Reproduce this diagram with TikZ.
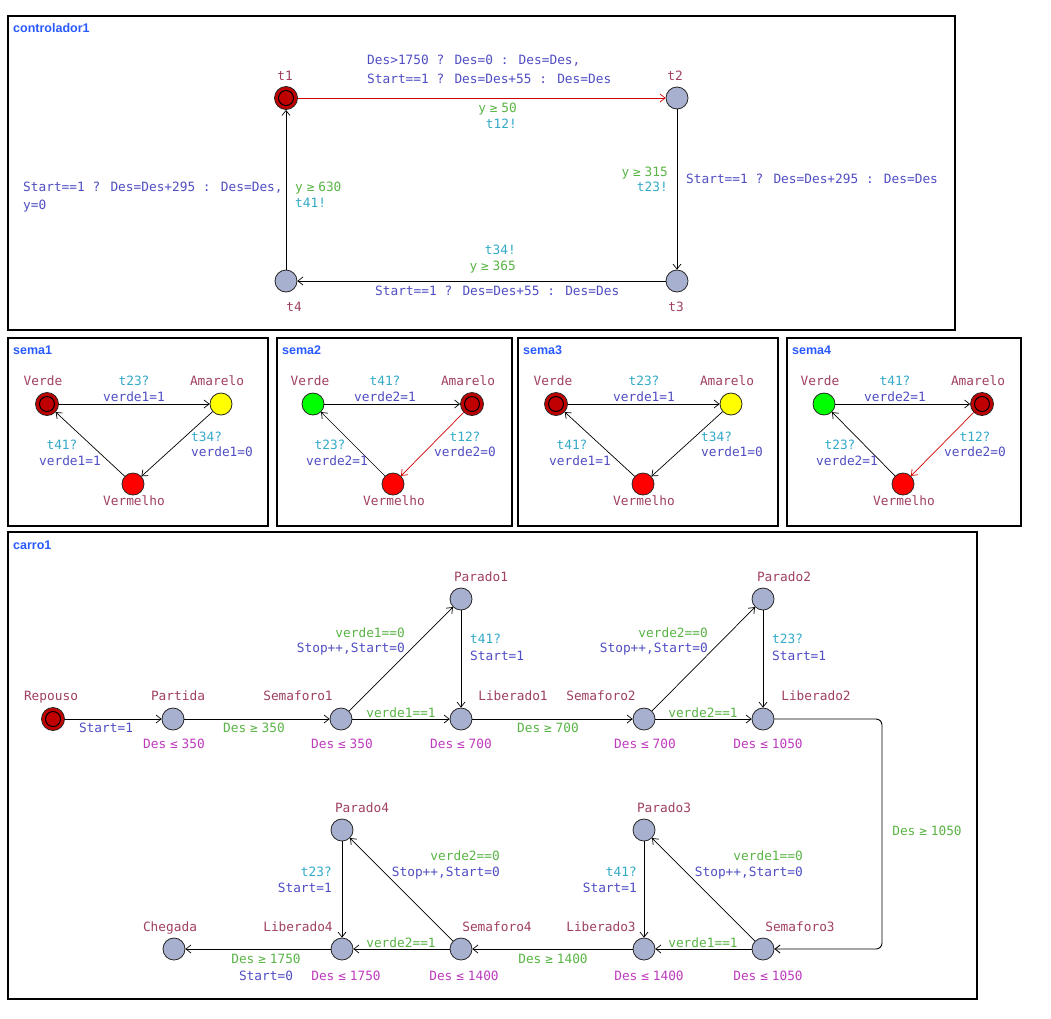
\documentclass[tikz,border=0pt]{standalone}
\usepackage{fontspec}
\setmainfont{DejaVu Sans Mono}
\newfontfamily\titlefont{Liberation Sans}
\usetikzlibrary{arrows.meta}

\definecolor{locname}{RGB}{160,64,96}
\definecolor{guardc}{RGB}{90,180,70}
\definecolor{syncc}{RGB}{50,170,200}
\definecolor{assignc}{RGB}{80,78,195}
\definecolor{invc}{RGB}{190,60,190}
\definecolor{titleblue}{RGB}{40,90,255}
\definecolor{locfill}{RGB}{168,176,208}
\definecolor{initred}{RGB}{192,0,0}
\definecolor{edgered}{RGB}{210,0,0}
\definecolor{litgreen}{RGB}{0,255,0}
\definecolor{lityellow}{RGB}{255,255,0}
\definecolor{litred}{RGB}{255,0,0}

% two-cell comparison signs, as in the editor's ligature font
\newcommand\gecell{\makebox[1.204em]{≥}}
\newcommand\lecell{\makebox[1.204em]{≤}}

\begin{document}
\begin{tikzpicture}[x=1pt,y=-1pt,
  loc/.style={circle, draw=black!85, line width=0.8pt, fill=locfill,
    minimum size=22pt, inner sep=0pt},
  initloc/.style={loc, fill=initred, minimum size=23pt,
    path picture={\draw[black, line width=1pt]
      (path picture bounding box.center) circle (7.5pt);}},
  greenloc/.style={loc, fill=litgreen},
  yellowloc/.style={loc, fill=lityellow},
  redloc/.style={loc, fill=litred},
  txt/.style={inner sep=0pt, text height=9pt, text depth=0pt,
    font=\fontsize{12.8}{15}\selectfont},
  lname/.style={txt, text=locname},
  guard/.style={txt, text=guardc},
  sync/.style={txt, text=syncc},
  assign/.style={txt, text=assignc},
  inv/.style={txt, text=invc},
  edge/.style={draw=black, line width=0.7pt,
    -{Straight Barb[length=5pt,width=8pt]}},
  redge/.style={edge, draw=edgered},
  panel/.style={draw=black, line width=1.2pt},
  ptitle/.style={anchor=west, inner sep=0pt, text=titleblue,
    text height=9pt, text depth=0pt,
    font=\titlefont\bfseries\fontsize{12.5}{14}\selectfont},
]
\fill[white] (0,0) rectangle (1051,1018);
\useasboundingbox (0,0) rectangle (1051,1018);

% ---------------- controlador1 ----------------
\draw[panel] (8,16) rectangle (955,330);
\node[ptitle] (ttlctl) at (13,28) {controlador1};

\node[initloc] (t1) at (286,98) {};
\node[loc] (t2) at (677,98) {};
\node[loc] (t3) at (677,281) {};
\node[loc] (t4) at (286,281) {};
\node[lname] (t1n) at (285,76) {t1};
\node[lname] (t2n) at (675,76) {t2};
\node[lname] (t3n) at (676,307) {t3};
\node[lname] (t4n) at (294,307) {t4};

\draw[redge] (t1) -- (t2);
\draw[edge] (t2) -- (t3);
\draw[edge] (t3) -- (t4);
\draw[edge] (t4) -- (t1);

\node[assign, anchor=west] (a12a) at (367,60) {Des>1750 ? Des=0 : Des=Des,};
\node[assign, anchor=west] (a12b) at (367,79) {Start==1 ? Des=Des+55 : Des=Des};
\node[guard, anchor=east] (g12) at (517,108) {y\gecell50};
\node[sync, anchor=east] (s12) at (517,124) {t12!};

\node[guard, anchor=east] (g23) at (668,172) {y\gecell315};
\node[sync, anchor=east] (s23) at (668,187) {t23!};
\node[assign, anchor=west] (a23) at (686,179) {Start==1 ? Des=Des+295 : Des=Des};

\node[sync, anchor=east] (s34) at (516,250) {t34!};
\node[guard, anchor=east] (g34) at (516,266) {y\gecell365};
\node[assign, anchor=west] (a34) at (375,291) {Start==1 ? Des=Des+55 : Des=Des};

\node[assign, anchor=west] (a41a) at (23,187) {Start==1 ? Des=Des+295 : Des=Des,};
\node[assign, anchor=west] (a41b) at (23,205) {y=0};
\node[guard, anchor=west] (g41) at (295,187) {y\gecell630};
\node[sync, anchor=west] (s41) at (295,203) {t41!};

% ---------------- sema1 ----------------
\draw[panel] (8,338) rectangle (268,526);
\node[ptitle] (ttls1) at (13,350) {sema1};
\node[initloc] (s1v) at (47,404) {};
\node[yellowloc] (s1a) at (221,404) {};
\node[redloc] (s1r) at (133,484) {};
\node[lname] (s1vn) at (43,381) {Verde};
\node[lname] (s1an) at (217,381) {Amarelo};
\node[lname] (s1rn) at (134,501) {Vermelho};
\draw[edge] (s1v) -- (s1a);
\draw[edge] (s1a) -- (s1r);
\draw[edge] (s1r) -- (s1v);
\node[sync] (s1l1) at (134,381) {t23?};
\node[assign] (s1l2) at (134,397) {verde1=1};
\node[sync, anchor=west] (s1l3) at (191,437) {t34?};
\node[assign, anchor=west] (s1l4) at (191,452) {verde1=0};
\node[sync] (s1l5) at (62,445) {t41?};
\node[assign] (s1l6) at (70,461) {verde1=1};

% ---------------- sema2 ----------------
\draw[panel] (277,338) rectangle (512,526);
\node[ptitle] (ttls2) at (282,350) {sema2};
\node[greenloc] (s2v) at (313,404) {};
\node[initloc] (s2a) at (472,404) {};
\node[redloc] (s2r) at (393,484) {};
\node[lname] (s2vn) at (310,381) {Verde};
\node[lname] (s2an) at (468,381) {Amarelo};
\node[lname] (s2rn) at (394,501) {Vermelho};
\draw[edge] (s2v) -- (s2a);
\draw[redge] (s2a) -- (s2r);
\draw[edge] (s2r) -- (s2v);
\node[sync] (s2l1) at (385,381) {t41?};
\node[assign] (s2l2) at (385,397) {verde2=1};
\node[sync] (s2l3) at (465,437) {t12?};
\node[assign] (s2l4) at (465,452) {verde2=0};
\node[sync] (s2l5) at (330,445) {t23?};
\node[assign] (s2l6) at (337,461) {verde2=1};

% ---------------- sema3 ----------------
\draw[panel] (518,338) rectangle (778,526);
\node[ptitle] (ttls3) at (523,350) {sema3};
\node[initloc] (s3v) at (556,404) {};
\node[yellowloc] (s3a) at (731,404) {};
\node[redloc] (s3r) at (643,484) {};
\node[lname] (s3vn) at (553,381) {Verde};
\node[lname] (s3an) at (727,381) {Amarelo};
\node[lname] (s3rn) at (644,501) {Vermelho};
\draw[edge] (s3v) -- (s3a);
\draw[edge] (s3a) -- (s3r);
\draw[edge] (s3r) -- (s3v);
\node[sync] (s3l1) at (644,381) {t23?};
\node[assign] (s3l2) at (644,397) {verde1=1};
\node[sync, anchor=west] (s3l3) at (701,437) {t34?};
\node[assign, anchor=west] (s3l4) at (701,452) {verde1=0};
\node[sync] (s3l5) at (572,445) {t41?};
\node[assign] (s3l6) at (580,461) {verde1=1};

% ---------------- sema4 ----------------
\draw[panel] (787,338) rectangle (1021,526);
\node[ptitle] (ttls4) at (792,350) {sema4};
\node[greenloc] (s4v) at (824,404) {};
\node[initloc] (s4a) at (982,404) {};
\node[redloc] (s4r) at (903,484) {};
\node[lname] (s4vn) at (820,381) {Verde};
\node[lname] (s4an) at (978,381) {Amarelo};
\node[lname] (s4rn) at (904,501) {Vermelho};
\draw[edge] (s4v) -- (s4a);
\draw[redge] (s4a) -- (s4r);
\draw[edge] (s4r) -- (s4v);
\node[sync] (s4l1) at (895,381) {t41?};
\node[assign] (s4l2) at (895,397) {verde2=1};
\node[sync] (s4l3) at (975,437) {t12?};
\node[assign] (s4l4) at (975,452) {verde2=0};
\node[sync] (s4l5) at (840,445) {t23?};
\node[assign] (s4l6) at (847,461) {verde2=1};

% ---------------- carro1 ----------------
\draw[panel] (8,532) rectangle (977,999);
\node[ptitle] (ttlc) at (13,545) {carro1};

\node[initloc] (rep) at (53,719) {};
\node[loc] (par) at (173,719) {};
\node[loc] (sem1) at (341,719) {};
\node[loc] (lib1) at (461,719) {};
\node[loc] (pd1) at (461,599) {};
\node[loc] (sem2) at (644,719) {};
\node[loc] (lib2) at (763,719) {};
\node[loc] (pd2) at (763,599) {};
\node[loc] (sem3) at (763,949) {};
\node[loc] (lib3) at (644,949) {};
\node[loc] (pd3) at (644,830) {};
\node[loc] (sem4) at (461,949) {};
\node[loc] (lib4) at (342,949) {};
\node[loc] (pd4) at (342,830) {};
\node[loc] (che) at (174,949) {};

\node[lname] (repn) at (51,696) {Repouso};
\node[lname] (parn) at (178,696) {Partida};
\node[lname] (sem1n) at (298,696) {Semaforo1};
\node[lname] (lib1n) at (513,696) {Liberado1};
\node[lname] (pd1n) at (481,577) {Parado1};
\node[lname] (sem2n) at (601,696) {Semaforo2};
\node[lname] (lib2n) at (816,696) {Liberado2};
\node[lname] (pd2n) at (784,577) {Parado2};
\node[lname] (chen) at (170,927) {Chegada};
\node[lname] (lib4n) at (298,927) {Liberado4};
\node[lname] (sem4n) at (497,927) {Semaforo4};
\node[lname] (lib3n) at (601,927) {Liberado3};
\node[lname] (sem3n) at (800,927) {Semaforo3};
\node[lname] (pd4n) at (362,808) {Parado4};
\node[lname] (pd3n) at (664,808) {Parado3};

\node[inv] (pari) at (174,744) {Des\lecell350};
\node[inv] (sem1i) at (342,744) {Des\lecell350};
\node[inv] (lib1i) at (461,744) {Des\lecell700};
\node[inv] (sem2i) at (645,744) {Des\lecell700};
\node[inv] (lib2i) at (768,744) {Des\lecell1050};
\node[inv] (lib4i) at (346,976) {Des\lecell1750};
\node[inv] (sem4i) at (464,976) {Des\lecell1400};
\node[inv] (lib3i) at (649,976) {Des\lecell1400};
\node[inv] (sem3i) at (768,976) {Des\lecell1050};

\coordinate (bendA) at (882,719);
\coordinate (bendB) at (882,949);

\draw[edge] (rep) -- (par);
\draw[edge] (par) -- (sem1);
\draw[edge] (sem1) -- (lib1);
\draw[edge] (sem1) -- (pd1);
\draw[edge] (pd1) -- (lib1);
\draw[edge] (lib1) -- (sem2);
\draw[edge] (sem2) -- (lib2);
\draw[edge] (sem2) -- (pd2);
\draw[edge] (pd2) -- (lib2);
\draw[edge, line width=0.9pt, rounded corners=6pt] (lib2) -- (bendA) -- (bendB) -- (sem3);
\draw[edge] (sem3) -- (lib3);
\draw[edge] (sem3) -- (pd3);
\draw[edge] (pd3) -- (lib3);
\draw[edge] (lib3) -- (sem4);
\draw[edge] (sem4) -- (lib4);
\draw[edge] (sem4) -- (pd4);
\draw[edge] (pd4) -- (lib4);
\draw[edge] (lib4) -- (che);

\node[assign] (e1) at (106,728) {Start=1};
\node[guard] (e2) at (254,728) {Des\gecell350};
\node[guard] (e3) at (401,713) {verde1==1};
\node[guard, anchor=east] (e4a) at (405,633) {verde1==0};
\node[assign, anchor=east] (e4b) at (405,648) {Stop++,Start=0};
\node[sync, anchor=west] (e5a) at (470,639) {t41?};
\node[assign, anchor=west] (e5b) at (470,656) {Start=1};
\node[guard] (e6) at (548,728) {Des\gecell700};
\node[guard] (e7) at (703,713) {verde2==1};
\node[guard, anchor=east] (e8a) at (708,633) {verde2==0};
\node[assign, anchor=east] (e8b) at (708,648) {Stop++,Start=0};
\node[sync, anchor=west] (e9a) at (772,639) {t23?};
\node[assign, anchor=west] (e9b) at (772,656) {Start=1};
\node[guard] (e10) at (927,831) {Des\gecell1050};
\node[guard] (e11) at (703,943) {verde1==1};
\node[guard, anchor=east] (e12a) at (803,856) {verde1==0};
\node[assign, anchor=east] (e12b) at (803,872) {Stop++,Start=0};
\node[sync, anchor=east] (e13a) at (637,872) {t41?};
\node[assign, anchor=east] (e13b) at (637,888) {Start=1};
\node[guard] (e14) at (553,959) {Des\gecell1400};
\node[guard] (e15) at (401,943) {verde2==1};
\node[guard, anchor=east] (e16a) at (500,856) {verde2==0};
\node[assign, anchor=east] (e16b) at (500,872) {Stop++,Start=0};
\node[sync, anchor=east] (e17a) at (332,872) {t23?};
\node[assign, anchor=east] (e17b) at (332,888) {Start=1};
\node[guard] (e18a) at (266,959) {Des\gecell1750};
\node[assign] (e18b) at (266,976) {Start=0};
\end{tikzpicture}
\end{document}
